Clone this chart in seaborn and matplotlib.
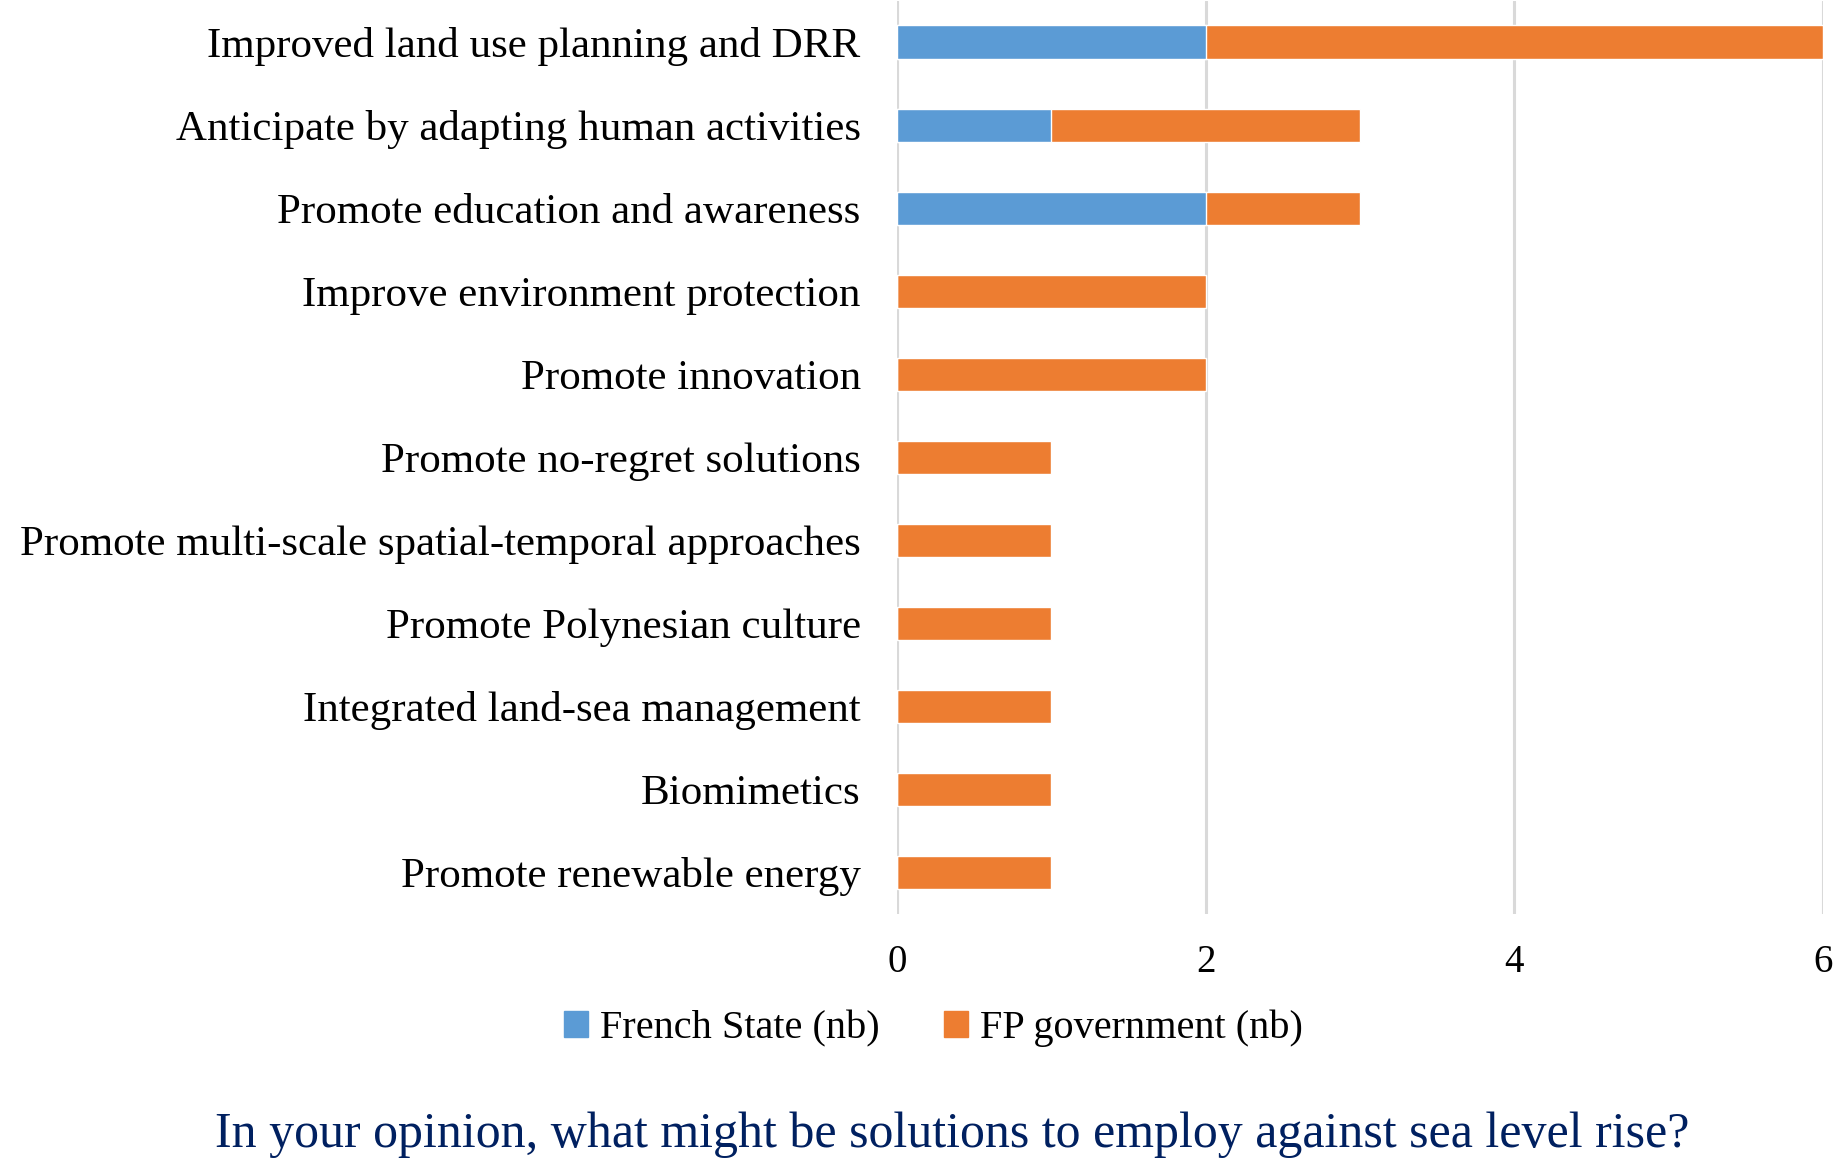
import pandas as pd
import numpy as np
import seaborn as sns
import matplotlib.pyplot as plt
from matplotlib.patches import Patch

# dati
soluzioni = [
    "Improved land use planning and DRR",
    "Anticipate by adapting human activities",
    "Promote education and awareness",
    "Improve environment protection",
    "Promote innovation",
    "Promote no-regret solutions",
    "Promote multi-scale spatial-temporal approaches",
    "Promote Polynesian culture",
    "Integrated land-sea management",
    "Biomimetics",
    "Promote renewable energy",
]
french_state = [2, 1, 2, 0, 0, 0, 0, 0, 0, 0, 0]
fp_government = [4, 2, 1, 2, 2, 1, 1, 1, 1, 1, 1]
x_ticks = [0, 2, 4, 6]

blu = "#5B9BD5"
arancio = "#ED7D31"

df = pd.DataFrame({"soluzione": soluzioni,
                   "french": french_state,
                   "fp": fp_government})
df["totale"] = df["french"] + df["fp"]

sns.set_theme(style="white")
plt.rcParams["font.family"] = ["Liberation Serif", "DejaVu Serif"]
plt.rcParams["text.color"] = "black"

fig = plt.figure(figsize=(18.34, 11.65), dpi=100)
ax = fig.add_axes([0.489, 0.2155, 0.505, 0.784])

# barre impilate: prima il totale in arancio, poi la parte blu sopra
sns.barplot(data=df, y="soluzione", x="totale", color=arancio, width=0.4,
            saturation=1, orient="h", ax=ax, zorder=3)
sns.barplot(data=df, y="soluzione", x="french", color=blu, width=0.4,
            saturation=1, orient="h", ax=ax, zorder=4)

ax.set_xlim(0, 6)
ax.set_xticks(x_ticks)
ax.set_xticklabels([str(t) for t in x_ticks])
ax.xaxis.grid(True, color="#D9D9D9", linewidth=2.2, zorder=0)
ax.yaxis.grid(False)
for s in ax.spines.values():
    s.set_visible(False)
ax.axvline(0, color="#D9D9D9", linewidth=2.2, zorder=1)
ax.set_xlabel("")
ax.set_ylabel("")
ax.tick_params(axis="y", length=0, pad=26, labelsize=31, labelcolor="black")
ax.tick_params(axis="x", length=0, pad=22, labelsize=28, labelcolor="black")

handles = [Patch(color=blu, label="French State (nb)"),
           Patch(color=arancio, label="FP government (nb)")]
leg = fig.legend(handles=handles, loc="center", bbox_to_anchor=(0.509, 0.117),
                 ncol=2, frameon=False, fontsize=29, handlelength=0.6,
                 handleheight=0.6, handletextpad=0.3, columnspacing=1.6)
for t in leg.get_texts():
    t.set_color("black")

fig.text(0.519, 0.026, "In your opinion, what might be solutions to employ against sea level rise?",
         ha="center", va="center", fontsize=36, color="#002060")

fig.savefig("out.png", dpi=100)
